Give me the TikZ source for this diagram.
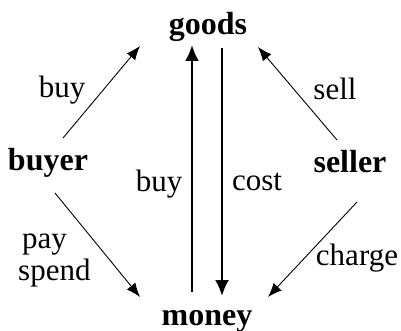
\documentclass[tikz,border=0pt]{standalone}
\usepackage{fontspec}
\setmainfont{Liberation Serif}
\usetikzlibrary{arrows.meta}
\begin{document}
\begin{tikzpicture}[x=1pt,y=-1pt,
  word/.style={font=\fontsize{32}{36}\selectfont\bfseries, inner sep=0pt, anchor=base},
  lbl/.style={font=\fontsize{31}{32}\selectfont, inner sep=0pt, anchor=base},
  diagarrow/.style={line width=0.9pt, -{Latex[length=14pt,width=11pt]}},
  mainarrow/.style={line width=2.4pt, -{Latex[length=16pt,width=14pt]}}
]
\useasboundingbox (0,0) rectangle (401,331);
% main words
\node[word] (goods) at (208,35) {goods};
\node[word] (money) at (207,325) {money};
\node[word] (buyer) at (48,171) {buyer};
\node[word] (seller) at (350,172) {seller};
% arrow end points
\coordinate (bgS) at (63,138);
\coordinate (bgE) at (140,46);
\coordinate (sgS) at (337,140);
\coordinate (sgE) at (258,47);
\coordinate (bmS) at (55,193);
\coordinate (bmE) at (140,297);
\coordinate (smS) at (357,202);
\coordinate (smE) at (268,297);
\coordinate (upS) at (192,292);
\coordinate (upE) at (192,45);
\coordinate (dnS) at (222,48);
\coordinate (dnE) at (222,296);
% arrows
\draw[diagarrow] (bgS) -- (bgE);
\draw[diagarrow] (sgS) -- (sgE);
\draw[diagarrow] (bmS) -- (bmE);
\draw[diagarrow] (smS) -- (smE);
\draw[mainarrow] (upS) -- (upE);
\draw[mainarrow] (dnS) -- (dnE);
% labels
\node[lbl] (lbuy1) at (62,98) {buy};
\node[lbl] (lsell) at (335,100) {sell};
\node[lbl] (lbuy2) at (159,191) {buy};
\node[lbl] (lcost) at (257,190) {cost};
\node[lbl] (lcharge) at (357,265) {charge};
\node[lbl, anchor=base west] (lpay) at (22,248) {pay};
\node[lbl, anchor=base west] (lspend) at (18,280) {spend};
\end{tikzpicture}
\end{document}
